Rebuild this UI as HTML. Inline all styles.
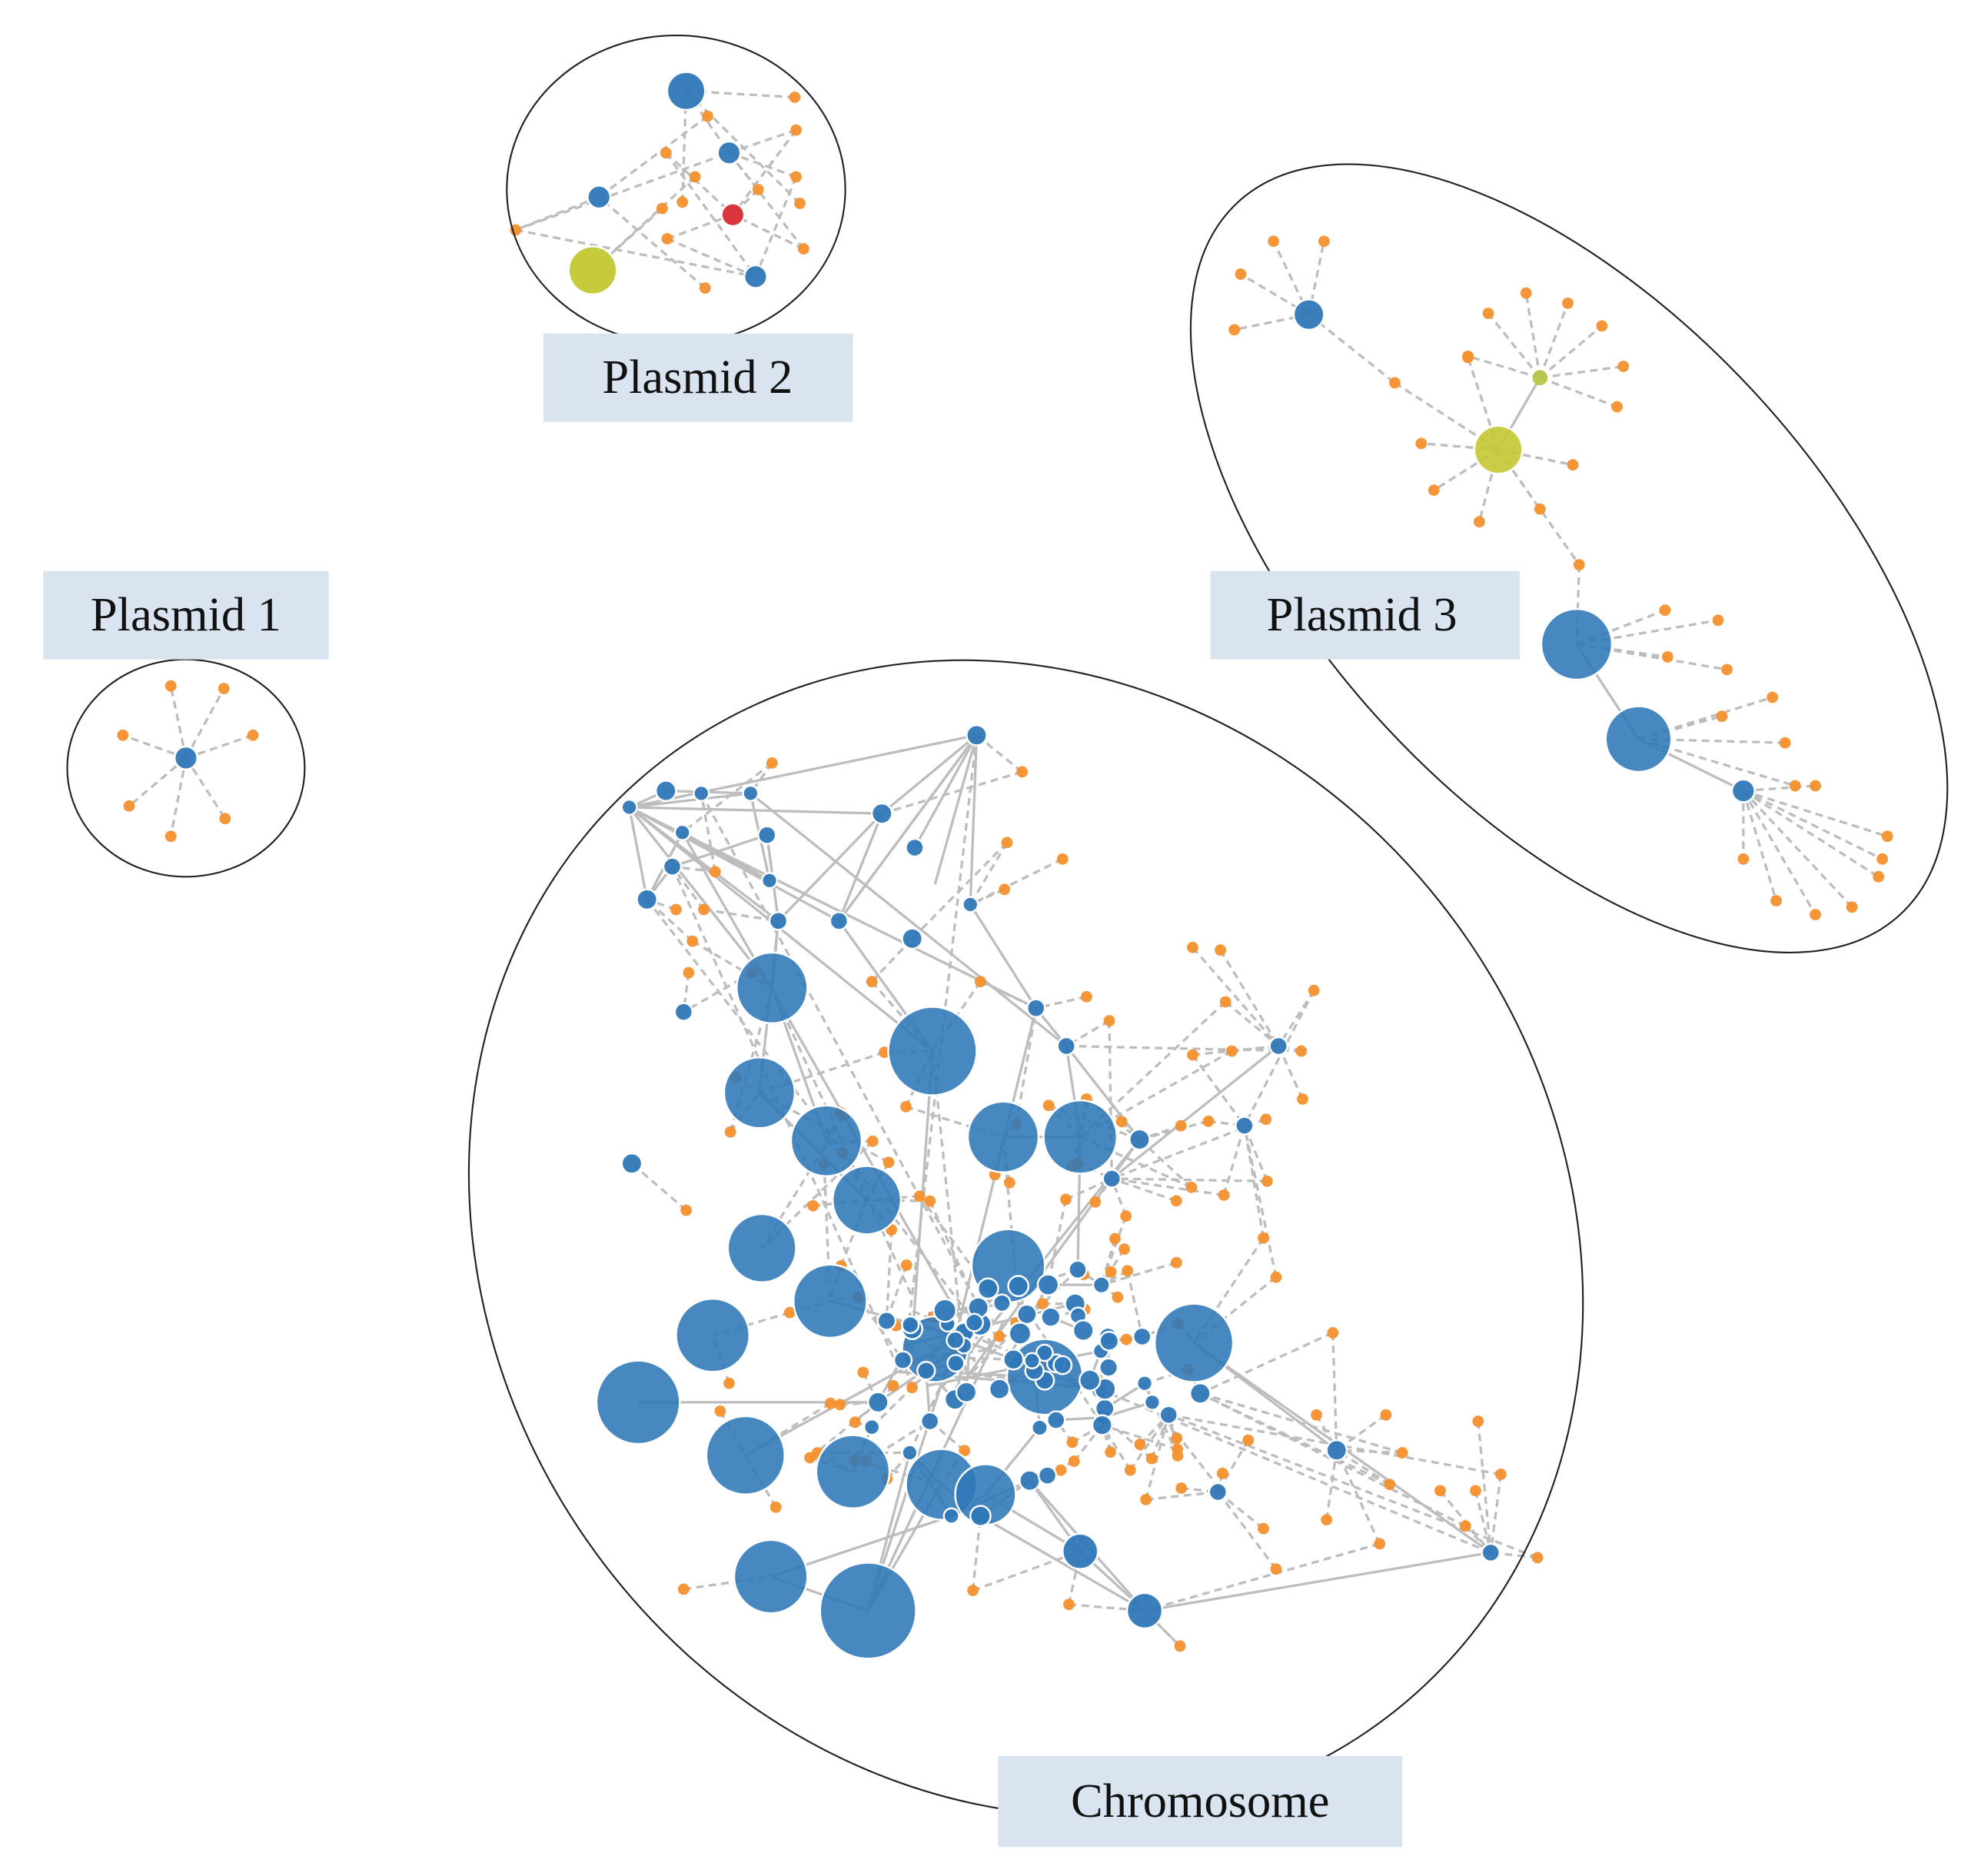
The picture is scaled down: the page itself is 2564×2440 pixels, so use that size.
<!DOCTYPE html>
<html><head><meta charset="utf-8"><style>
html,body{margin:0;padding:0;background:#fff;width:2564px;height:2440px;overflow:hidden}
svg{display:block;position:absolute;left:0;top:0}
text{font-family:"Liberation Serif",serif;font-size:38px;fill:#111}
</style></head><body>
<svg id="s" width="2564" height="2440" viewBox="0 0 1560 1485" xmlns="http://www.w3.org/2000/svg">
<g id="edges" stroke="#bdbdbd" stroke-width="2" fill="none"></g>
<g id="nodes"></g>
<g fill="none" stroke="#222" stroke-width="1.3">
<ellipse cx="535" cy="150" rx="134" ry="122"/>
<ellipse cx="147" cy="608" rx="94" ry="86"/>
<ellipse cx="1242" cy="442" rx="385" ry="197" transform="rotate(47 1242 442)"/>
<ellipse cx="812" cy="980" rx="475" ry="422" transform="rotate(54 812 980)"/>
</g>
<g>
<rect x="430" y="264" width="245" height="70" fill="#dae4f0"/><text x="552" y="311" text-anchor="middle">Plasmid 2</text>
<rect x="34" y="452" width="226" height="70" fill="#dae4f0"/><text x="147" y="499" text-anchor="middle">Plasmid 1</text>
<rect x="958" y="452" width="245" height="70" fill="#dae4f0"/><text x="1078" y="499" text-anchor="middle">Plasmid 3</text>
<rect x="790" y="1390" width="320" height="72" fill="#dae4f0"/><text x="950" y="1438" text-anchor="middle">Chromosome</text>
</g>
</svg>
<script>
var NS="http://www.w3.org/2000/svg",E=document.getElementById("edges"),N=document.getElementById("nodes");
var seed=7;function r(){seed=(seed*16807)%2147483647;return seed/2147483647;}
function line(a,b,dash){var l=document.createElementNS(NS,"line");l.setAttribute("x1",a[0]);l.setAttribute("y1",a[1]);l.setAttribute("x2",b[0]);l.setAttribute("y2",b[1]);if(dash)l.setAttribute("stroke-dasharray","6 4");E.appendChild(l);}
function circ(x,y,rad,fill,op,st){var c=document.createElementNS(NS,"circle");c.setAttribute("cx",x);c.setAttribute("cy",y);c.setAttribute("r",rad);c.setAttribute("fill",fill);c.setAttribute("fill-opacity",op);if(st){c.setAttribute("stroke",st);c.setAttribute("stroke-width",1.5);}N.appendChild(c);}
var BLUE="#2f78b8",OR="#f4902e";
function star(h,pts){pts.forEach(function(p){line(h,p,true);});}
function blue(x,y,rad){circ(x,y,rad,BLUE,rad>15?0.88:0.95,"#ffffff");}
function ors(pts){pts.forEach(function(p){circ(p[0],p[1],4.5,OR,0.95);});}
var p1o=[[135,543],[177,545],[97,582],[200,582],[102,638],[178,648],[135,662]];star([147,600],p1o);
var p2o=[[629,77],[630,103],[560,92],[527,121],[550,140],[630,140],[633,161],[636,197],[558,228],[528,189],[524,165],[408,182],[540,160],[600,150]];
var p2b=[[543,72],[577,121],[474,156],[580,170],[469,214],[598,219]];
p2o.forEach(function(p,i){line(p,p2b[i%6],true);if(i%2)line(p,p2b[(i+2)%6],true);});
line([474,156],[408,182],true);line([543,72],[577,121],true);
var s1=[[1008,191],[1048,191],[982,217],[977,261]];star([1036,249],s1);line([1036,249],[1104,303],true);line([1104,303],[1186,356],true);
var s2=[[1125,351],[1135,388],[1171,413],[1219,403],[1245,368],[1162,283]];star([1186,356],s2);
var s3=[[1178,248],[1208,232],[1241,240],[1268,258],[1285,290],[1280,322],[1162,282]];star([1219,299],s3);line([1186,356],[1219,299],false);
line([1186,356],[1250,447],true);line([1250,447],[1248,510],true);
var s4=[[1318,483],[1360,491],[1367,530],[1320,520]];star([1248,510],s4);
var s5=[[1403,552],[1413,588],[1421,622],[1363,567]];star([1297,585],s5);
var s6=[[1437,622],[1494,662],[1487,694],[1466,718],[1437,724],[1406,713],[1380,680],[1490,680]];star([1380,626],s6);
line([1248,510],[1297,585],false);line([1297,585],[1380,626],false);
var big=[[611,782,28],[738,832,35],[601,865,28],[654,903,28],[794,900,28],[855,900,29],[686,950,27],[603,988,27],[798,1002,29],[657,1030,29],[564,1057,29],[945,1063,31],[505,1110,33],[827,1090,30],[740,1068,26],[590,1152,31],[675,1165,29],[745,1175,28],[780,1183,24],[610,1248,29],[687,1275,38],[855,1228,14],[906,1275,14]];
var sm=[[773,582],[498,639],[527,626],[555,628],[594,628],[607,661],[698,644],[724,671],[540,659],[532,686],[512,712],[609,697],[616,729],[664,729],[722,743],[768,716],[541,801],[500,921],[820,798],[844,828],[1012,828],[985,891],[902,902],[880,933],[853,1005],[851,1032],[877,1058],[904,1058],[906,1095],[912,1110],[950,1103],[925,1120],[964,1181],[1058,1148],[1180,1229],[870,1101],[873,1122],[695,1110],[720,1150],[736,1125],[776,1200],[815,1172],[829,1168],[753,1200],[782,1020],[806,1018],[722,1052],[750,1048],[733,1085]];
for(var i=0;i<40;i++){sm.push([690+r()*200,1010+r()*130]);}
var co=[[611,604],[809,611],[841,680],[797,667],[795,704],[776,777],[690,777],[944,750],[966,752],[970,793],[1040,784],[975,832],[944,835],[1030,832],[1002,886],[1031,870],[1003,935],[1000,980],[1010,1011],[1055,1055],[1042,1120],[1097,1120],[1170,1125],[1188,1167],[1168,1180],[1140,1180],[1110,1150],[1100,1175],[1160,1208],[1217,1233],[1092,1222],[1050,1203],[1010,1242],[1000,1210],[988,1140],[907,1187],[935,1178],[934,1303],[846,1270],[770,1259],[541,1258],[614,1193],[577,1095],[570,1117],[625,1039],[543,958],[578,896],[582,853],[700,833],[717,876],[860,789],[878,808],[830,875],[860,870],[557,720],[566,690],[535,720],[548,745],[545,770],[595,770]];
for(var i=0;i<70;i++){co.push([640+r()*330,880+r()*300]);}
var allB=big.concat(sm);
function near(p,k){var d=allB.map(function(b,i){return [(b[0]-p[0])*(b[0]-p[0])+(b[1]-p[1])*(b[1]-p[1]),i];}).sort(function(a,b){return a[0]-b[0];});return d.slice(0,k).map(function(x){return allB[x[1]];});}
co.forEach(function(p){var n=near(p,6);line(p,n[0],true);if(r()<0.7)line(p,n[1+Math.floor(r()*5)],true);});
line([498,639],[773,582],false);
[[773,582],[698,644],[724,671],[768,716],[664,729],[740,700]].forEach(function(p){line([773,582],p,false);});
[[594,628],[698,644],[609,697],[664,729],[616,729],[738,832],[611,782]].forEach(function(p){line([498,639],p,false);});
line([498,639],[820,798],false);line([594,628],[844,828],false);line([698,644],[616,729],false);
for(var i=0;i<80;i++){var a=allB[Math.floor(r()*allB.length)];var n=near(a,8);line(a,n[1+Math.floor(r()*7)],false);}
for(var i=0;i<40;i++){var a=allB[Math.floor(r()*allB.length)],b=[760+r()*100-50,1060+r()*80-40];line(a,b,r()<0.5);}
line([855,1228],[906,1275],false);line([780,1183],[855,1228],false);line([945,1063],[1180,1229],false);line([945,1063],[1058,1148],false);line([906,1275],[934,1303],true);
line([610,1248],[687,1275],false);line([505,1110],[695,1110],false);line([687,1275],[745,1175],false);
ors(p1o);ors(p2o);ors(s1.concat([[1104,303],[1250,447]]));ors(s2);ors(s3);ors(s4);ors(s5);ors(s6);ors(co);
blue(147,600,9);
blue(543,72,15);blue(577,121,9);blue(474,156,9);circ(580,170,9,"#d9363e",1,"#fff");circ(469,214,19,"#c3c832",0.95,"#fff");blue(598,219,9);
blue(1036,249,12);circ(1186,356,19,"#c3c832",0.9,"#fff");circ(1219,299,6,"#b7c43f",0.9);blue(1248,510,28);blue(1297,585,26);blue(1380,626,9);
big.forEach(function(b){blue(b[0],b[1],b[2]);});
sm.forEach(function(b){blue(b[0],b[1],6+(b[0]*7%3));});
</script>
</body></html>
